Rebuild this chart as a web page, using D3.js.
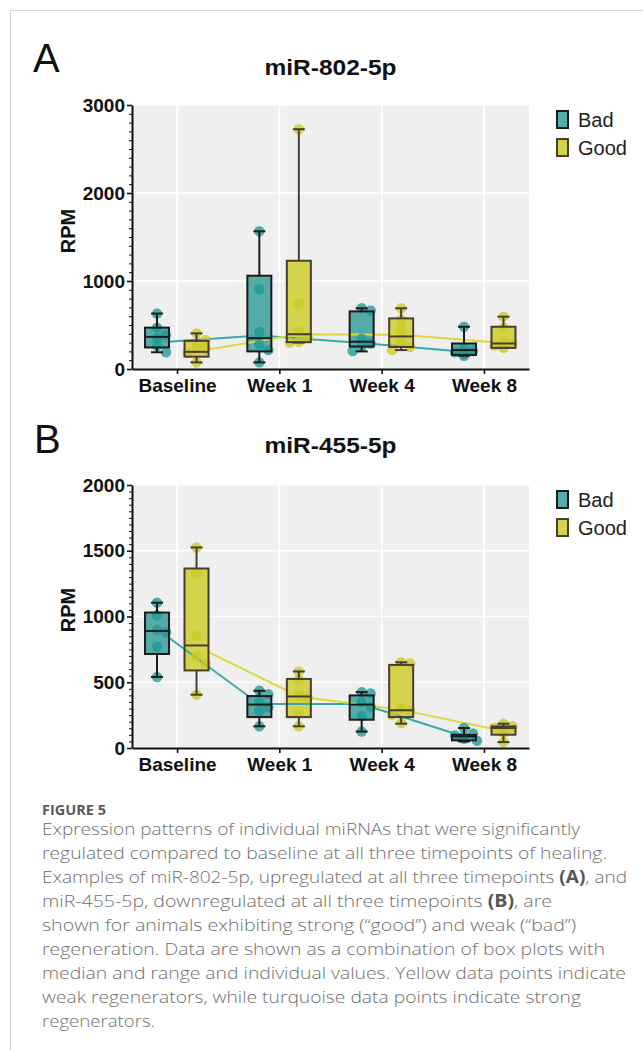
<!DOCTYPE html>
<html>
<head>
<meta charset="utf-8">
<script src="https://cdn.jsdelivr.net/npm/d3@7"></script>
<style>
  html, body { margin: 0; padding: 0; background: #ffffff; }
  svg { display: block; }
</style>
</head>
<body>
<script>
// ---------------- DATA ----------------
const categories = ["Baseline", "Week 1", "Week 4", "Week 8"];
const groups = ["Bad", "Good"];

// Panel A: miR-802-5p  (box stats: [min, q1, median, q3, max])
const miR802BadBox = [[190, 245, 365, 470, 630], [75, 200, 350, 1060, 1565], [200, 255, 310, 655, 690], [150, 160, 215, 290, 480]];
const miR802GoodBox = [[75, 140, 195, 320, 405], [300, 305, 395, 1230, 2725], [215, 250, 370, 575, 690], [240, 240, 290, 480, 595]];
const miR802BadPoints = [[630, 470, 385, 350, 260, 190], [1565, 905, 420, 280, 215, 75], [690, 665, 345, 290, 255, 205], [480, 230, 205, 190, 170, 150]];
const miR802GoodPoints = [[405, 330, 250, 230, 180, 75], [2725, 745, 430, 360, 310, 300], [690, 560, 440, 300, 250, 215], [595, 470, 310, 290, 265, 240]];
const miR802BadTrend = [300, 380, 295, 195];
const miR802GoodTrend = [200, 395, 388, 295];

// Panel B: miR-455-5p
const miR455BadBox = [[540, 715, 890, 1030, 1105], [165, 235, 330, 395, 435], [125, 215, 330, 400, 425], [50, 58, 88, 100, 152]];
const miR455GoodBox = [[405, 590, 780, 1365, 1525], [165, 235, 392, 525, 582], [185, 235, 287, 632, 652], [45, 101, 152, 164, 185]];
const miR455BadPoints = [[1105, 1010, 900, 880, 770, 540], [435, 410, 350, 310, 280, 165], [425, 415, 350, 310, 245, 125], [152, 110, 95, 85, 70, 55]];
const miR455GoodPoints = [[1525, 1325, 855, 700, 645, 405], [582, 520, 400, 385, 265, 165], [652, 645, 300, 280, 250, 190], [185, 165, 155, 150, 115, 45]];
const miR455BadTrend = [905, 334, 334, 88];
const miR455GoodTrend = [775, 392, 290, 130];

const yTicksA = [0, 1000, 2000, 3000];
const yTicksB = [0, 500, 1000, 1500, 2000];

const captionTitle = "FIGURE 5";
const captionLines = [
  "Expression patterns of individual miRNAs that were significantly",
  "regulated compared to baseline at all three timepoints of healing.",
  "Examples of miR-802-5p, upregulated at all three timepoints |(A)|, and",
  "miR-455-5p, downregulated at all three timepoints |(B)|, are",
  "shown for animals exhibiting strong (\u201Cgood\u201D) and weak (\u201Cbad\u201D)",
  "regeneration. Data are shown as a combination of box plots with",
  "median and range and individual values. Yellow data points indicate",
  "weak regenerators, while turquoise data points indicate strong",
  "regenerators."
];
const captionLineEnds = [580, 607, 627, 552, 576, 605, 626, 581, 155];

// ---------------- STYLE ----------------
const W = 643, H = 1050;
const plotLeft = 132, plotRight = 529;
const chartFont = "'Liberation Sans', Arial, Helvetica, sans-serif";
const captionFont = "'Open Sans', 'Noto Sans', sans-serif";
const colors = {
  Bad:  { box: "#55aba8", dot: "#1f9896", stroke: "#1b1b1b", line: "#3aa8a6" },
  Good: { box: "#d4d44c", dot: "#c9c926", stroke: "#4a3d30", line: "#d9d93e" }
};
const dotR = 5.2;

const svg = d3.select("body").append("svg")
  .attr("width", W).attr("height", H)
  .attr("viewBox", `0 0 ${W} ${H}`);

// outer frame
svg.append("rect").attr("x", 10.5).attr("y", 10.5).attr("width", 700).attr("height", 1100)
  .attr("fill", "none").attr("stroke", "#d2d2d2").attr("stroke-width", 1);

const x = d3.scalePoint().domain(categories).range([plotLeft, plotRight]).padding(0.44);
const off = d3.scalePoint().domain(groups).range([-20, 19.5]);

function beeswarm(vals, y, r) {
  // simple deterministic placement: center if free, otherwise side slots
  const placed = [];
  const slots = [0, 9, -9, 13, -13];
  return vals.map(v => {
    const py = y(v);
    let chosen = 0;
    for (const s of slots) {
      const hit = placed.some(p => Math.hypot(p.dx - s, p.py - py) < r * 1.5);
      if (!hit) { chosen = s; break; }
    }
    placed.push({ dx: chosen, py });
    return { v, dx: chosen };
  });
}

function panel(cfg) {
  const g = svg.append("g");
  const y = d3.scaleLinear().domain([0, cfg.yMax]).range([cfg.bottom, cfg.top]);

  g.append("text").attr("x", cfg.letterX).attr("y", cfg.letterY)
    .attr("font-family", chartFont).attr("font-size", 40).attr("fill", "#111")
    .text(cfg.letter);

  g.append("text").attr("x", (plotLeft + plotRight) / 2).attr("y", cfg.titleY)
    .attr("text-anchor", "middle").attr("font-family", chartFont)
    .attr("font-size", 22).attr("font-weight", "bold").attr("fill", "#111")
    .attr("textLength", 132).attr("lengthAdjust", "spacingAndGlyphs")
    .text(cfg.title);

  g.append("rect").attr("x", plotLeft).attr("y", cfg.top)
    .attr("width", plotRight - plotLeft).attr("height", cfg.bottom - cfg.top)
    .attr("fill", "#efefef");

  g.append("g").selectAll("line").data(cfg.ticks.filter(d => d > 0)).join("line")
    .attr("x1", plotLeft).attr("x2", plotRight)
    .attr("y1", d => y(d)).attr("y2", d => y(d))
    .attr("stroke", "#ffffff").attr("stroke-width", 1.6);
  g.append("g").selectAll("line").data(categories).join("line")
    .attr("x1", d => x(d)).attr("x2", d => x(d))
    .attr("y1", cfg.top).attr("y2", cfg.bottom)
    .attr("stroke", "#ffffff").attr("stroke-width", 1.6);

  const series = [
    { grp: "Bad", box: cfg.badBox, pts: cfg.badPts, trend: cfg.badTrend },
    { grp: "Good", box: cfg.goodBox, pts: cfg.goodPts, trend: cfg.goodTrend }
  ];
  const bw = 24, cw = 6;

  series.forEach(s => {
    g.append("g").selectAll("rect").data(s.box).join("rect")
      .attr("x", (d, i) => x(categories[i]) + off(s.grp) - bw / 2)
      .attr("y", d => y(d[3]))
      .attr("width", bw).attr("height", d => y(d[1]) - y(d[3]))
      .attr("fill", colors[s.grp].box);
  });

  series.forEach(s => {
    const line = d3.line()
      .x((d, i) => x(categories[i]) + off(s.grp))
      .y(d => y(d));
    g.append("path").datum(s.trend).attr("d", line)
      .attr("fill", "none").attr("stroke", colors[s.grp].line).attr("stroke-width", 2);
  });

  series.forEach(s => {
    s.pts.forEach((vals, i) => {
      const cx = x(categories[i]) + off(s.grp);
      const placed = beeswarm(vals, y, dotR);
      g.append("g").selectAll("circle").data(placed).join("circle")
        .attr("cx", d => cx + d.dx).attr("cy", d => y(d.v)).attr("r", dotR)
        .attr("fill", colors[s.grp].dot).attr("fill-opacity", 0.78);
    });
  });

  series.forEach(s => {
    const st = colors[s.grp].stroke;
    const bg = g.append("g").attr("stroke", st).attr("stroke-width", 2).attr("fill", "none");
    s.box.forEach((d, i) => {
      const cx = x(categories[i]) + off(s.grp);
      bg.append("rect").attr("x", cx - bw / 2).attr("y", y(d[3]))
        .attr("width", bw).attr("height", y(d[1]) - y(d[3]));
      bg.append("line").attr("x1", cx - bw / 2).attr("x2", cx + bw / 2)
        .attr("y1", y(d[2])).attr("y2", y(d[2]));
      bg.append("line").attr("x1", cx).attr("x2", cx).attr("y1", y(d[3])).attr("y2", y(d[4]));
      bg.append("line").attr("x1", cx).attr("x2", cx).attr("y1", y(d[1])).attr("y2", y(d[0]));
      bg.append("line").attr("x1", cx - cw).attr("x2", cx + cw).attr("y1", y(d[4])).attr("y2", y(d[4]));
      bg.append("line").attr("x1", cx - cw).attr("x2", cx + cw).attr("y1", y(d[0])).attr("y2", y(d[0]));
    });
  });

  const minor = d3.range(0, cfg.yMax + 1, cfg.minorStep).filter(v => !cfg.ticks.includes(v));
  const yMinor = g.append("g").attr("transform", `translate(${plotLeft},0)`)
    .call(d3.axisLeft(y).tickValues(minor).tickSize(3).tickSizeOuter(0).tickFormat(""));
  yMinor.select(".domain").remove();
  yMinor.selectAll("line").attr("stroke", "#111").attr("stroke-width", 1);

  const yAx = g.append("g").attr("transform", `translate(${plotLeft},0)`)
    .call(d3.axisLeft(y).tickValues(cfg.ticks).tickSize(5).tickSizeOuter(0).tickPadding(2)
      .tickFormat(d3.format("d")));
  yAx.select(".domain").attr("stroke", "#111").attr("stroke-width", 2);
  yAx.selectAll(".tick line").attr("stroke", "#111").attr("stroke-width", 1.6);
  yAx.selectAll("text").attr("font-family", chartFont).attr("font-size", 19)
    .attr("font-weight", "bold").attr("fill", "#111");

  const xAx = g.append("g").attr("transform", `translate(0,${cfg.bottom})`)
    .call(d3.axisBottom(x).tickSize(5).tickSizeOuter(0).tickPadding(5));
  xAx.select(".domain").attr("stroke", "#111").attr("stroke-width", 2);
  xAx.selectAll(".tick line").attr("stroke", "#111").attr("stroke-width", 1.6);
  xAx.selectAll("text").attr("font-family", chartFont).attr("font-size", 19)
    .attr("font-weight", "bold").attr("fill", "#111");

  g.append("text")
    .attr("transform", `translate(75,${cfg.labelY}) rotate(-90)`)
    .attr("text-anchor", "middle").attr("font-family", chartFont)
    .attr("font-size", 20).attr("font-weight", "bold").attr("fill", "#111")
    .text("RPM");

  groups.forEach((grp, k) => {
    const ly = cfg.top + 6 + k * 28;
    g.append("rect").attr("x", 557).attr("y", ly).attr("width", 11).attr("height", 17)
      .attr("fill", colors[grp].box).attr("stroke", colors[grp].stroke).attr("stroke-width", 2);
    g.append("text").attr("x", 578).attr("y", ly + 16)
      .attr("font-family", chartFont).attr("font-size", 20).attr("fill", "#222")
      .text(grp);
  });
}

panel({
  letter: "A", letterX: 33, letterY: 72,
  title: "miR-802-5p", titleY: 75,
  top: 105, bottom: 369, yMax: 3000, ticks: yTicksA, minorStep: 100, labelY: 231,
  badBox: miR802BadBox, goodBox: miR802GoodBox,
  badPts: miR802BadPoints, goodPts: miR802GoodPoints,
  badTrend: miR802BadTrend, goodTrend: miR802GoodTrend
});

panel({
  letter: "B", letterX: 34, letterY: 453,
  title: "miR-455-5p", titleY: 453,
  top: 485, bottom: 748, yMax: 2000, ticks: yTicksB, minorStep: 50, labelY: 610,
  badBox: miR455BadBox, goodBox: miR455GoodBox,
  badPts: miR455BadPoints, goodPts: miR455GoodPoints,
  badTrend: miR455BadTrend, goodTrend: miR455GoodTrend
});

svg.append("text").attr("x", 42).attr("y", 815)
  .attr("font-family", captionFont).attr("font-size", 14.5).attr("font-weight", "bold")
  .attr("fill", "#5a5a5a").text(captionTitle);

captionLines.forEach((ln, i) => {
  const t = svg.append("text").attr("x", 42).attr("y", 835 + i * 24)
    .attr("font-family", captionFont).attr("font-size", 17).attr("font-weight", 300)
    .attr("fill", "#707070")
    .attr("textLength", captionLineEnds[i] - 42).attr("lengthAdjust", "spacingAndGlyphs");
  ln.split("|").forEach((part, j) => {
    const sp = t.append("tspan").text(part);
    if (j % 2 === 1) sp.attr("font-weight", "bold").attr("fill", "#555");
  });
});
</script>
</body>
</html>
